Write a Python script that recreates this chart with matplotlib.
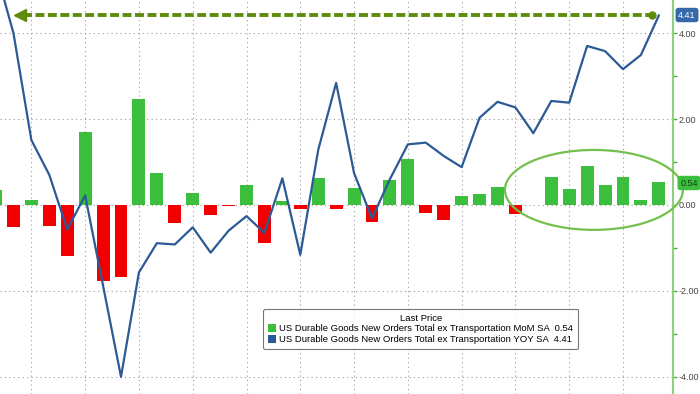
import matplotlib
matplotlib.use("Agg")
import matplotlib.pyplot as plt
from matplotlib.patches import Ellipse
import numpy as np

plt.rcParams["font.family"] = ["Liberation Sans", "DejaVu Sans"]

# MoM % change (bars), oldest first
mom = [0.35, -0.52, 0.12, -0.49, -1.18, 1.69, -1.77, -1.68, 2.47, 0.74,
       -0.41, 0.27, -0.24, -0.03, 0.47, -0.89, 0.09, -0.09, 0.62, -0.10,
       0.40, -0.40, 0.57, 1.06, -0.19, -0.34, 0.21, 0.26, 0.42, -0.21,
       0.01, 0.64, 0.36, 0.90, 0.46, 0.64, 0.12, 0.54]
# YoY % change (line)
yoy = [5.50, 4.00, 1.51, 0.70, -0.57, 0.22, -1.88, -4.00, -1.57, -0.89,
       -0.92, -0.52, -1.11, -0.60, -0.26, -0.65, 0.62, -1.16, 1.28, 2.84,
       0.74, -0.31, 0.60, 1.41, 1.45, 1.14, 0.88, 2.03, 2.40, 2.27,
       1.67, 2.42, 2.38, 3.70, 3.58, 3.16, 3.49, 4.41]

yticks = [-4, -2, 0, 2, 4]
ytick_labels = ["-4.00", "-2.00", "0.00", "2.00", "4.00"]
mom_label = "US Durable Goods New Orders Total ex Transportation MoM SA  0.54"
yoy_label = "US Durable Goods New Orders Total ex Transportation YOY SA  4.41"

GREEN = "#3cbf3c"
RED = "#f20000"
BLUE = "#2c5a97"
OLIVE = "#5e8c0a"

fig = plt.figure(figsize=(7, 3.94), dpi=100)
ax = fig.add_axes([0, 0, 673 / 700, 1])

x = np.arange(len(mom))
cols = [GREEN if v >= 0 else RED for v in mom]
ax.bar(x, mom, width=0.72, color=cols, zorder=2)
ax.plot(x, yoy, color=BLUE, lw=1.6, zorder=3)

# legend proxies
h1 = ax.bar([0], [0], color=GREEN, label=mom_label)
h2 = ax.bar([0], [0], color=BLUE, label=yoy_label)

ax.set_xlim(0.25, 37.79)
ax.set_ylim(-4.40, 4.77)

# grid
for gx in range(2, 38, 3):
    ax.axvline(gx, color="#999999", ls=(0, (1, 3)), lw=0.8, zorder=1)
for gy in yticks:
    ax.axhline(gy, color="#999999", ls=(0, (1, 3)), lw=0.8, zorder=1)

# right axis look
for s in ["left", "top", "bottom"]:
    ax.spines[s].set_visible(False)
ax.spines["right"].set_color("#8fcf7f")
ax.spines["right"].set_linewidth(1.5)
ax.yaxis.tick_right()
ax.set_yticks(yticks)
ax.set_yticklabels(ytick_labels)
ax.set_yticks([-3, -1, 1, 3], minor=True)
ax.tick_params(axis="y", which="both", direction="out", colors="#4caf3c",
               labelcolor="#444444", labelsize=6.5, length=3, width=1, pad=1)
ax.set_xticks([])

# dashed arrow at last YoY level
last = yoy[-1]
ax.plot([1.55, len(yoy) - 1.4], [last, last], color=OLIVE, lw=2.8,
        dashes=(2.3, 0.9), zorder=4)
ax.plot([len(yoy) - 1.4], [last], "o", color=OLIVE, ms=5, zorder=5)
ax.plot([1.35], [last], "<", color=OLIVE, ms=8, zorder=5)

# ellipse highlight
ax.add_patch(Ellipse((33.38, 0.35), 9.93, 1.86, fill=False, ec="#74c04e",
                     lw=1.6, clip_on=False, zorder=6))

# value tags on right
fig.text(687 / 700, 1 - 15 / 394, "4.41", ha="center", va="center",
         fontsize=6.5, color="white",
         bbox=dict(boxstyle="round,pad=0.3", fc="#3468a8", ec="none"))
fig.text(689 / 700, 1 - 183 / 394, "0.54", ha="center", va="center",
         fontsize=6.5, color="#1a3a1a",
         bbox=dict(boxstyle="round,pad=0.3", fc=GREEN, ec="none"))

leg = ax.legend(handles=[h1, h2], title="Last Price", loc="center",
                bbox_to_anchor=(0.625, 0.165), fontsize=6.8,
                title_fontsize=6.8, frameon=True, fancybox=True,
                edgecolor="#555555", handlelength=0.9, handleheight=0.9,
                handletextpad=0.3, borderpad=0.55, labelspacing=0.15)
leg.get_frame().set_linewidth(0.8)
leg.set_zorder(7)

fig.savefig("out.png", dpi=100)
